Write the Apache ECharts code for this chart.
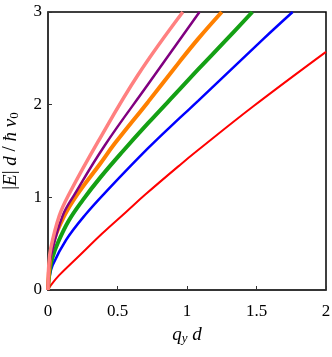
<!DOCTYPE html>
<html>
<head>
<meta charset="utf-8">
<script src="https://cdn.jsdelivr.net/npm/echarts@6/dist/echarts.min.js"></script>
<style>
  html, body { margin: 0; padding: 0; background: #fff; }
  #chart { width: 332px; height: 357px; }
</style>
</head>
<body>
<div id="chart"></div>
<script>
// values (q_y d, |E| d / hbar v0)
var qRed = [0, 0.02, 0.081, 0.225, 0.39, 0.56, 0.7, 0.95, 1.08, 1.475, 2]
var eRed = [0, 0.05, 0.16, 0.37, 0.61, 0.84, 1.03, 1.35, 1.51, 1.98, 2.57]

var qBlue = [0, 0.01, 0.034, 0.13, 0.273, 0.43, 0.72, 0.95, 1.08, 1.55, 1.76]
var eBlue = [0, 0.13, 0.27, 0.54, 0.82, 1.08, 1.53, 1.86, 2.04, 2.71, 3.0]

var qGreen = [0, 0.01, 0.03, 0.074, 0.15, 0.25, 0.374, 0.54, 0.72, 0.95, 1.08, 1.27, 1.47]
var eGreen = [0, 0.18, 0.34, 0.52, 0.75, 0.97, 1.21, 1.50, 1.80, 2.17, 2.38, 2.68, 3.0]

var qOrange = [0, 0.01, 0.034, 0.117, 0.21, 0.374, 0.48, 0.72, 0.95, 1.08, 1.25]
var eOrange = [0, 0.25, 0.5, 0.80, 1.03, 1.36, 1.58, 2.03, 2.47, 2.71, 3.0]

var qPurple = [0, 0.005, 0.02, 0.105, 0.19, 0.408, 0.72, 1.09]
var ePurple = [0, 0.2, 0.36, 0.80, 1.03, 1.56, 2.22, 3.0]

var qPink = [0, 0.005, 0.02, 0.081, 0.15, 0.36, 0.647, 0.97]
var ePink = [0, 0.25, 0.45, 0.80, 1.03, 1.6, 2.32, 3.0]

var xTicks = ['0', '0.5', '1', '1.5', '2']
var yTicks = ['0', '1', '2', '3']

function pairs(q, e) {
  return q.map(function (v, i) { return [v, e[i]] })
}

var chart = echarts.init(document.getElementById('chart'))

var serif = 'Liberation Serif'

function curve(name, q, e, color, width) {
  return {
    name: name,
    type: 'line',
    smooth: 0.4,
    showSymbol: false,
    data: pairs(q, e),
    lineStyle: { color: color, width: width },
    itemStyle: { color: color }
  }
}

chart.setOption({
  animation: false,
  grid: {
    left: 48,
    right: 6,
    top: 12,
    bottom: 67,
    containLabel: false,
    outerBoundsMode: 'none',
    show: true,
    borderColor: '#000',
    borderWidth: 1.5,
    backgroundColor: 'transparent'
  },
  xAxis: {
    type: 'value',
    min: 0,
    max: 2,
    interval: 0.5,
    axisLine: { show: true, lineStyle: { color: '#333', width: 1.5 } },
    axisTick: { show: true, inside: true, length: 4, lineStyle: { color: '#333' } },
    splitLine: { show: false },
    axisLabel: {
      color: '#000',
      fontFamily: serif,
      fontSize: 17,
      margin: 13,
      formatter: function (v) { return xTicks[Math.round(v * 2)] }
    },
    name: '{i|q}{s|y}{n| }{i|d}',
    nameLocation: 'middle',
    nameGap: 34,
    nameTextStyle: {
      rich: {
        i: { fontFamily: serif, fontStyle: 'italic', fontSize: 19, color: '#000' },
        s: { fontFamily: serif, fontStyle: 'italic', fontSize: 13, color: '#000', padding: [8, 0, 0, 0] },
        n: { fontFamily: serif, fontSize: 19, color: '#000' }
      }
    }
  },
  yAxis: {
    type: 'value',
    min: 0,
    max: 3,
    interval: 1,
    axisLine: { show: true, lineStyle: { color: '#333', width: 1.5 } },
    axisTick: { show: true, inside: true, length: 4, lineStyle: { color: '#333' } },
    splitLine: { show: false },
    axisLabel: {
      color: '#000',
      fontFamily: serif,
      fontSize: 17,
      margin: 6,
      formatter: function (v) { return yTicks[Math.round(v)] }
    },
    name: '{n||}{i|E}{n||}{n| }{i|d}{n| / }{i|ħ}{n| }{i|v}{s|0}',
    nameLocation: 'middle',
    nameRotate: 90,
    nameGap: 27,
    nameTextStyle: {
      rich: {
        i: { fontFamily: serif, fontStyle: 'italic', fontSize: 19, color: '#000' },
        s: { fontFamily: serif, fontSize: 13, color: '#000', padding: [8, 0, 0, 0] },
        n: { fontFamily: serif, fontSize: 19, color: '#000' }
      }
    }
  },
  series: [
    curve('red', qRed, eRed, '#ff0000', 2),
    curve('blue', qBlue, eBlue, '#0000ff', 2.5),
    curve('green', qGreen, eGreen, '#14a014', 4),
    curve('orange', qOrange, eOrange, '#ff8000', 4),
    curve('purple', qPurple, ePurple, '#800080', 2.5),
    curve('pink', qPink, ePink, '#ff8080', 3.5)
  ]
})
</script>
</body>
</html>
